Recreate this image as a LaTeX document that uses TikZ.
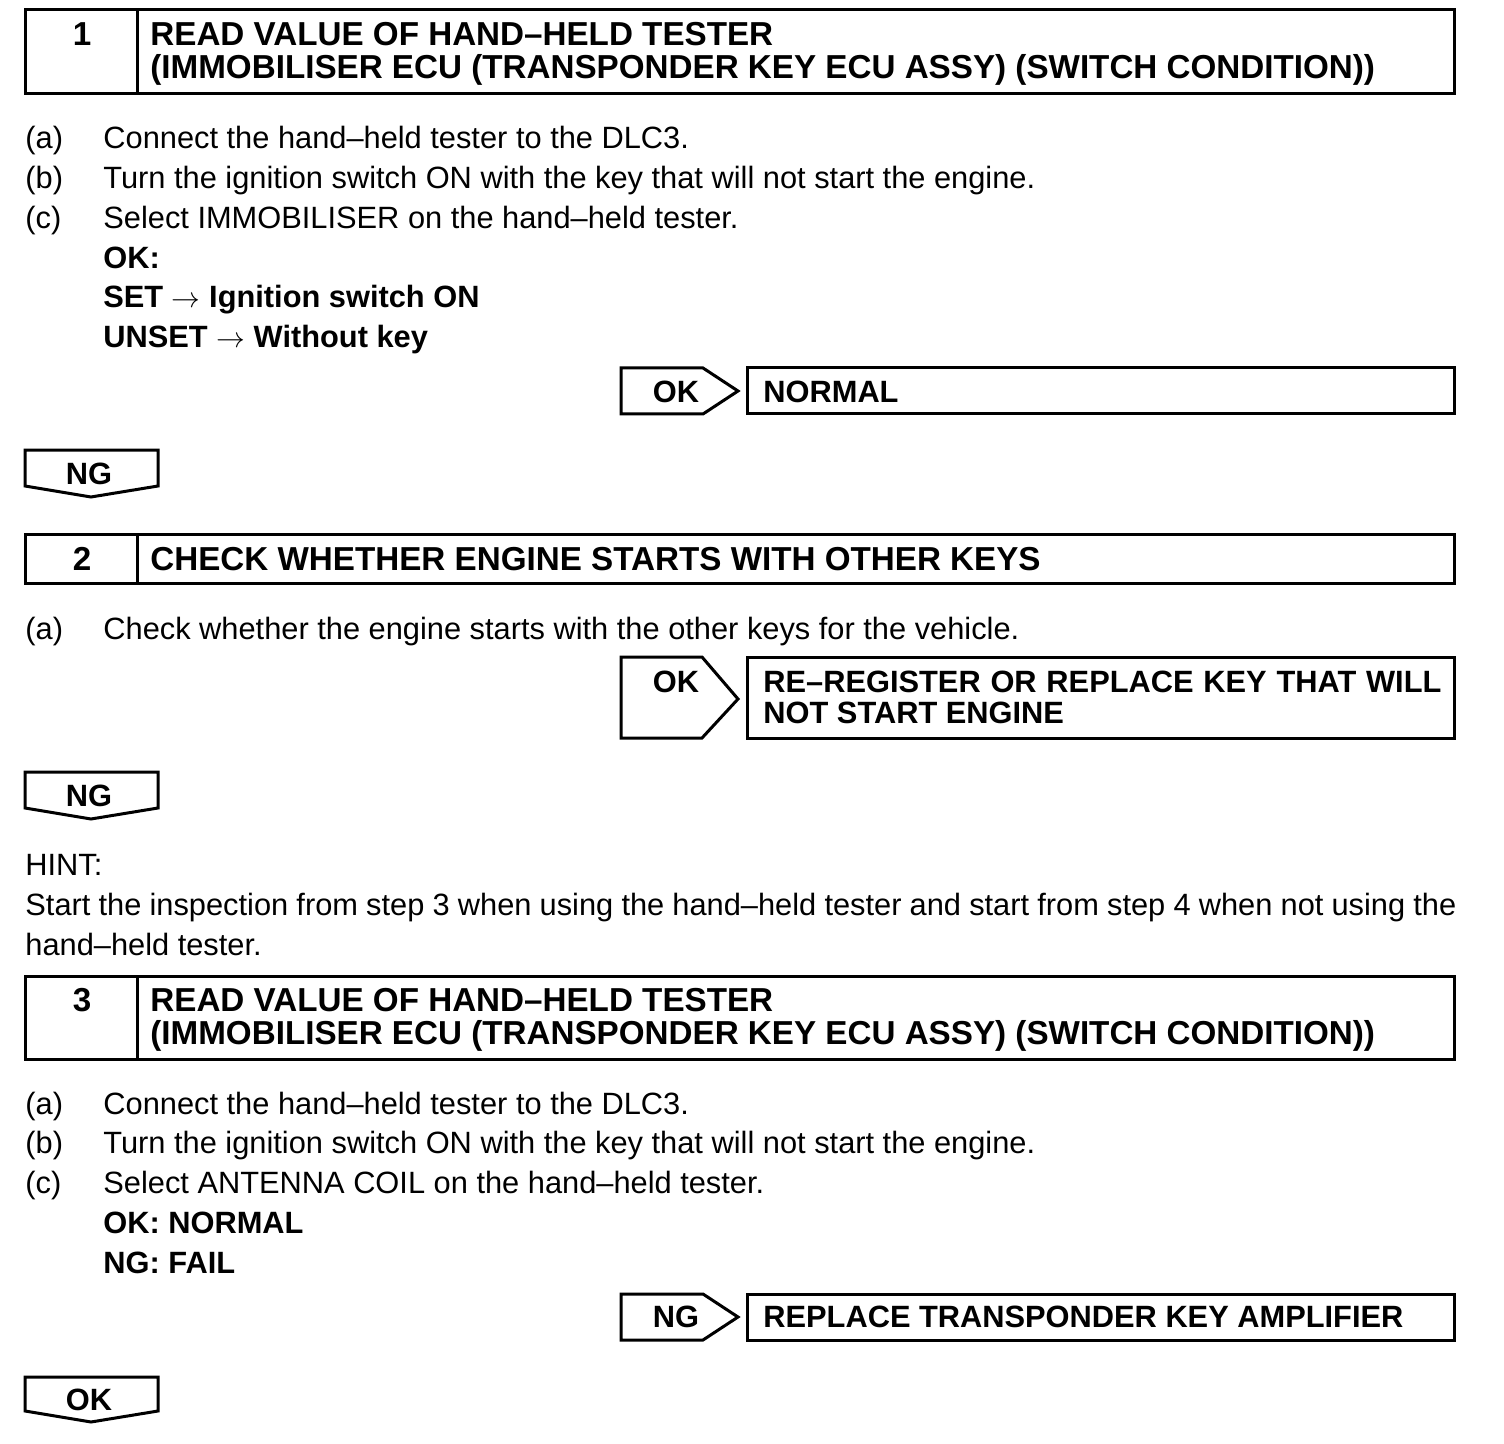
\documentclass[tikz,border=0pt]{standalone}
\usepackage{fontspec}
\setmainfont{Liberation Sans}
\usetikzlibrary{positioning}
\newcommand\bodysize{\fontsize{15.4}{20}\selectfont}
\newcommand\headsize{\fontsize{16.6}{20}\selectfont\bfseries}
\tikzset{
  frame/.style={draw, line width=1.5pt, line join=miter},
  txt/.style={anchor=base west, inner sep=0pt, font=\bodysize},
  boldtxt/.style={txt, font=\bodysize\bfseries},
  headtxt/.style={anchor=base west, inner sep=0pt, font=\headsize},
  numtxt/.style={anchor=base, inner sep=0pt, font=\headsize},
  flagtxt/.style={anchor=base, inner sep=0pt, font=\bodysize\bfseries},
}
\begin{document}
\begin{tikzpicture}[x=0.5pt, y=-0.5pt]
\useasboundingbox (0,0) rectangle (1504,1444);

% step 1
\draw[frame] (25,10) rectangle (1454,94);
\draw[frame] (137,10) -- (137,94);
\node[numtxt] (num1) at (82,46) {1};
\node[headtxt] (head1a) at (150,46) {READ VALUE OF HAND–HELD TESTER};
\node[headtxt] (head1b) at (150,79) {(IMMOBILISER ECU (TRANSPONDER KEY ECU ASSY) (SWITCH CONDITION))};
\node[txt] (lbl1a) at (25,149) {(a)};
\node[txt] (txt1a) at (103,149) {Connect the hand–held tester to the DLC3.};
\node[txt] (lbl1b) at (25,189) {(b)};
\node[txt] (txt1b) at (103,189) {Turn the ignition switch ON with the key that will not start the engine.};
\node[txt] (lbl1c) at (25,229) {(c)};
\node[txt] (txt1c) at (103,229) {Select IMMOBILISER on the hand–held tester.};
\node[boldtxt] (ok1) at (103,269) {OK:};
\node[boldtxt] (set1) at (103,308) {SET $\rightarrow$ Ignition switch ON};
\node[boldtxt] (unset1) at (103,348) {UNSET $\rightarrow$ Without key};

\draw[frame] (621,368) -- (703,368) -- (738,391) -- (703,414) -- (621,414) -- cycle;
\node[flagtxt] (flag1) at (676,402) {OK};
\draw[frame] (747,368) rectangle (1454,414);
\node[boldtxt] (res1) at (763,402) {NORMAL};

\draw[frame] (25,450) -- (158,450) -- (158,486) -- (91,497) -- (25,486) -- cycle;
\node[flagtxt] (down1) at (89,484) {NG};

% step 2
\draw[frame] (25,534) rectangle (1454,583);
\draw[frame] (137,534) -- (137,583);
\node[numtxt] (num2) at (82,570) {2};
\node[headtxt] (head2) at (150,570) {CHECK WHETHER ENGINE STARTS WITH OTHER KEYS};
\node[txt] (lbl2a) at (25,639) {(a)};
\node[txt] (txt2a) at (103,639) {Check whether the engine starts with the other keys for the vehicle.};

\draw[frame] (621,657) -- (702,657) -- (738,699) -- (702,738) -- (621,738) -- cycle;
\node[flagtxt] (flag2) at (676,692) {OK};
\draw[frame] (747,657) rectangle (1454,738);
\node[boldtxt] (res2a) at (763,692) {\makebox[339pt][s]{RE–REGISTER OR REPLACE KEY THAT WILL}};
\node[boldtxt] (res2b) at (763,723) {NOT START ENGINE};

\draw[frame] (25,772) -- (158,772) -- (158,808) -- (91,819) -- (25,808) -- cycle;
\node[flagtxt] (down2) at (89,806) {NG};

\node[txt] (hint) at (25,875) {HINT:};
\node[txt] (hinta) at (25,915) {\makebox[715.5pt][s]{Start the inspection from step 3 when using the hand–held tester and start from step 4 when not using the}};
\node[txt] (hintb) at (25,955) {hand–held tester.};

% step 3
\draw[frame] (25,976) rectangle (1454,1059);
\draw[frame] (137,976) -- (137,1059);
\node[numtxt] (num3) at (82,1011) {3};
\node[headtxt] (head3a) at (150,1011) {READ VALUE OF HAND–HELD TESTER};
\node[headtxt] (head3b) at (150,1044) {(IMMOBILISER ECU (TRANSPONDER KEY ECU ASSY) (SWITCH CONDITION))};
\node[txt] (lbl3a) at (25,1114) {(a)};
\node[txt] (txt3a) at (103,1114) {Connect the hand–held tester to the DLC3.};
\node[txt] (lbl3b) at (25,1153) {(b)};
\node[txt] (txt3b) at (103,1153) {Turn the ignition switch ON with the key that will not start the engine.};
\node[txt] (lbl3c) at (25,1193) {(c)};
\node[txt] (txt3c) at (103,1193) {Select ANTENNA COIL on the hand–held tester.};
\node[boldtxt] (ok3) at (103,1233) {OK: NORMAL};
\node[boldtxt] (ng3) at (103,1273) {NG: FAIL};

\draw[frame] (621,1294) -- (703,1294) -- (738,1317) -- (703,1340) -- (621,1340) -- cycle;
\node[flagtxt] (flag3) at (676,1327) {NG};
\draw[frame] (747,1294) rectangle (1454,1340);
\node[boldtxt] (res3) at (763,1327) {REPLACE TRANSPONDER KEY AMPLIFIER};

\draw[frame] (25,1377) -- (158,1377) -- (158,1411) -- (91,1422) -- (25,1411) -- cycle;
\node[flagtxt] (down3) at (89,1410) {OK};
\end{tikzpicture}
\end{document}
